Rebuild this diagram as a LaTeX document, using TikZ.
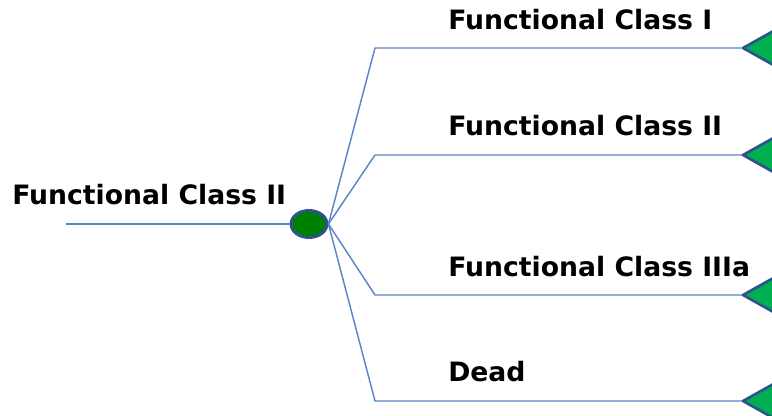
\documentclass[tikz,border=0pt]{standalone}
\usepackage{fontspec}
\setmainfont{DejaVu Sans}
\usepackage{tikz}
\usetikzlibrary{shapes.geometric}
\usepackage{xcolor}

\definecolor{branchblue}{RGB}{91,134,196}
\definecolor{edgeblue}{RGB}{47,82,143}
\definecolor{chancegreen}{RGB}{0,128,0}
\definecolor{endgreen}{RGB}{0,176,80}

\begin{document}
\begin{tikzpicture}[x=0.75pt, y=-0.75pt,
    branch/.style={draw=branchblue, line width=1.1pt},
    outcome/.style={font=\bfseries\fontsize{20}{22}\selectfont, anchor=west, inner sep=0pt},
    terminal/.style={fill=endgreen, draw=edgeblue, line width=2pt, line join=round}]
        \useasboundingbox (0,0) rectangle (772,415);
        \clip (0,0) rectangle (772,415);

        % --- Root ---
        \coordinate (start) at (66,224);
        \node[ellipse, minimum width=36pt*0.75, minimum height=27pt*0.75, inner sep=0pt,
              fill=chancegreen, draw=edgeblue, line width=2.2pt] (chance) at (309,224) {};
        \draw[branch] (start) -- (chance);
        \node[outcome] (rootlabel) at (12,195) {Functional Class II};

        % --- Branches ---
        \foreach \name/\y/\ly/\txt in {one/48/20/{Functional Class I},
                                       two/155/126/{Functional Class II},
                                       three/295/267/{Functional Class IIIa},
                                       dead/401/372/{Dead}} {
            \coordinate (\name-knee) at (375,\y);
            \coordinate (\name-end) at (743,\y);
            \draw[branch] (chance.east) -- (\name-knee) -- (\name-end);
            \node[outcome] (\name-label) at (448,\ly) {\txt};
            % terminal triangle, cut by the right edge
            \filldraw[terminal] (\name-end) -- ++(50,-28) -- ++(0,56) -- cycle;
        }

    \end{tikzpicture}
\end{document}
